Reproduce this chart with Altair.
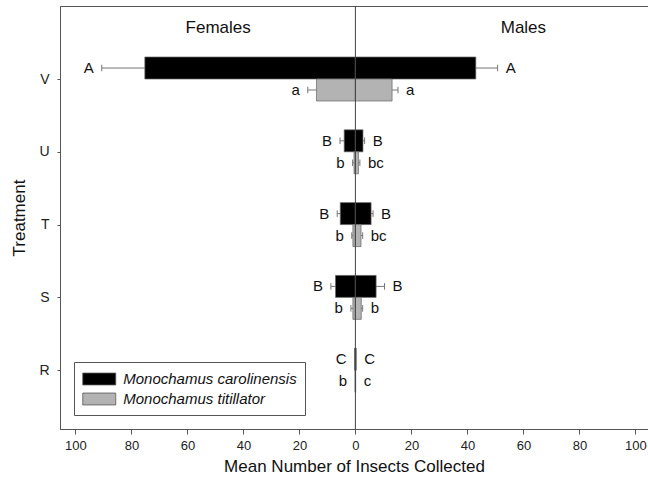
import json
import altair as alt
import pandas as pd

treatments = ["V", "U", "T", "S", "R"]
species = ["Monochamus carolinensis", "Monochamus titillator"]

# means (females plotted to the left, males to the right)
car_f = [75.2, 4.0, 5.4, 7.1, 0.3]
car_f_se = [15.4, 1.5, 1.1, 1.65, 0.0]
car_m = [43.0, 2.7, 5.6, 7.4, 0.3]
car_m_se = [7.8, 0.6, 0.7, 3.0, 0.0]
tit_f = [13.9, 0.5, 0.9, 0.9, 0.1]
tit_f_se = [3.1, 0.5, 0.4, 0.7, 0.0]
tit_m = [13.1, 1.1, 2.0, 2.1, 0.1]
tit_m_se = [2.1, 0.5, 0.6, 0.5, 0.0]

car_f_let = ["A", "B", "B", "B", "C"]
car_m_let = ["A", "B", "B", "B", "C"]
tit_f_let = ["a", "b", "b", "b", "b"]
tit_m_let = ["a", "bc", "bc", "b", "c"]

sex_labels = ["Females", "Males"]
sex_label_x = [-49, 60]

HALF = 0.302  # bar thickness in category units

rows = []
for i, t in enumerate(treatments):
    for sp_idx, (f, fse, m, mse, fl, ml) in enumerate([
        (car_f, car_f_se, car_m, car_m_se, car_f_let, car_m_let),
        (tit_f, tit_f_se, tit_m, tit_m_se, tit_f_let, tit_m_let),
    ]):
        if sp_idx == 0:
            ylo, yhi = i - HALF, i
        else:
            ylo, yhi = i, i + HALF
        ymid = (ylo + yhi) / 2
        for sex, mean, se, let, sign in [
            ("Female", f[i], fse[i], fl[i], -1),
            ("Male", m[i], mse[i], ml[i], 1),
        ]:
            rows.append(dict(
                treatment=t, species=species[sp_idx], sex=sex,
                mean=sign * mean, end=sign * (mean + se), se=se,
                ylo=ylo, yhi=yhi, ymid=ymid,
                capLo=ymid - 0.045, capHi=ymid + 0.045, letter=let,
            ))
df = pd.DataFrame(rows)
lab_df = pd.DataFrame({"label": sex_labels, "x": sex_label_x, "y": [-0.70, -0.70]})
zero_df = pd.DataFrame({"x": [0]})

xscale = alt.Scale(domain=[-105.5, 104.5], nice=False, zero=False)
yscale = alt.Scale(domain=[-1.003, 4.808], nice=False, zero=False, reverse=True)

x_axis = alt.Axis(
    title="Mean Number of Insects Collected",
    values=list(range(-100, 101, 10)),
    labelExpr="datum.value % 20 === 0 ? abs(datum.value) : ''",
    tickSize={"condition": {"test": "datum.value % 20 === 0", "value": 5}, "value": 3},
    labelPadding=5, titlePadding=6, grid=False,
    labelFontSize=13, titleFontSize=17, titleFontWeight="normal",
    domainColor="#555", tickColor="#555", labelColor="#222", titleColor="#111",
)
y_axis = alt.Axis(
    title="Treatment",
    values=list(range(len(treatments))),
    labelExpr=json.dumps(treatments) + "[datum.value]",
    tickSize=3, labelPadding=8, titlePadding=10, grid=False,
    labelFontSize=14, titleFontSize=17, titleFontWeight="normal",
    domainColor="#555", tickColor="#555", labelColor="#222", titleColor="#111",
)

base = alt.Chart(df)

err = base.mark_rule(color="#777", strokeWidth=1).encode(
    x=alt.X("mean:Q", scale=xscale, axis=x_axis),
    x2="end:Q",
    y=alt.Y("ymid:Q", scale=yscale, axis=y_axis),
)
caps = base.transform_filter("datum.se > 0").mark_rule(color="#777", strokeWidth=1).encode(
    x="end:Q", y="capLo:Q", y2="capHi:Q",
)
bars = base.mark_bar(stroke="#666", strokeWidth=0.7, opacity=1).encode(
    x=alt.X("mean:Q"),
    x2=alt.datum(0),
    y="ylo:Q", y2="yhi:Q",
    color=alt.Color(
        "species:N",
        scale=alt.Scale(domain=species, range=["#000000", "#b3b3b3"]),
        legend=alt.Legend(
            title=None, orient="none", legendX=14, legendY=356,
            labelFontStyle="italic", labelFontSize=15, labelColor="#111",
            labelLimit=400,
            symbolType="M-2,-0.72H2V0.72H-2Z", symbolSize=272.25,
            symbolOffset=8.25,
            symbolStrokeColor="#555", symbolStrokeWidth=0.8, symbolOpacity=1,
            labelOffset=15, rowPadding=3, padding=8,
            strokeColor="#555", fillColor="white",
        ),
    ),
)
zero = alt.Chart(zero_df).mark_rule(color="#444", strokeWidth=1).encode(x="x:Q")

txt_f = base.transform_filter("datum.sex === 'Female'").mark_text(
    align="right", baseline="middle", dx=-8, fontSize=15, color="#111"
).encode(x="end:Q", y="ymid:Q", text="letter:N")
txt_m = base.transform_filter("datum.sex === 'Male'").mark_text(
    align="left", baseline="middle", dx=8, fontSize=15, color="#111"
).encode(x="end:Q", y="ymid:Q", text="letter:N")

heads = alt.Chart(lab_df).mark_text(fontSize=17, color="#111", baseline="middle").encode(
    x="x:Q", y="y:Q", text="label:N"
)

chart = alt.layer(err, caps, bars, zero, txt_f, txt_m, heads).properties(
    width=588, height=423,
    autosize=alt.AutoSizeParams(type="none"),
    padding={"left": 60, "top": 6, "right": 0, "bottom": 57},
).configure(font="Liberation Sans").configure_view(stroke="#555", strokeWidth=1)

chart.save("out.html", embed_options={"renderer": "svg", "actions": False})
